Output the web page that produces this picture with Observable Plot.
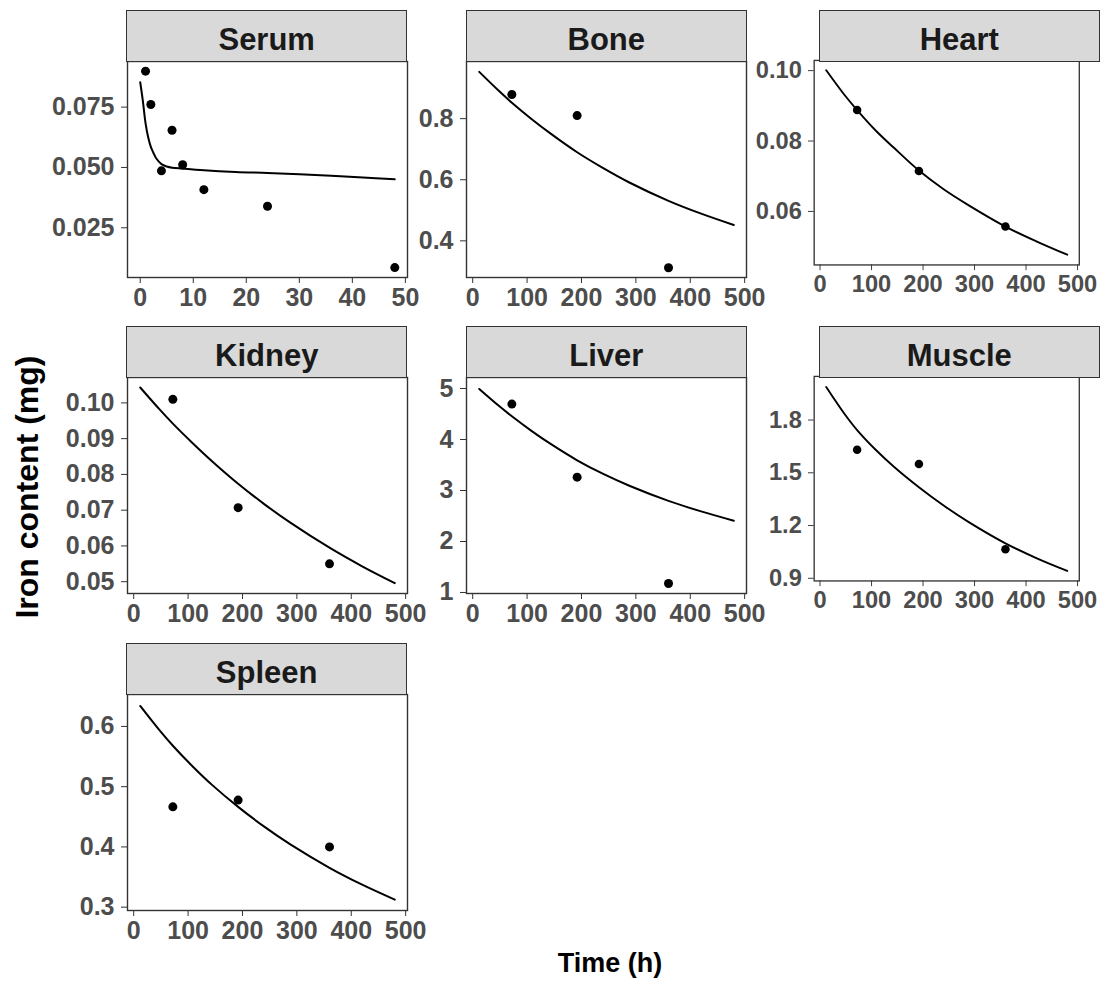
<!DOCTYPE html>
<html>
<head>
<meta charset="utf-8">
<script src="https://cdn.jsdelivr.net/npm/d3@7"></script>
<script src="https://cdn.jsdelivr.net/npm/@observablehq/plot@0.6"></script>
<style>
  html, body { margin: 0; padding: 0; background: #fff; overflow: hidden; }
  #fig { position: relative; width: 1117px; height: 985px; overflow: hidden; background: #fff;
         font-family: "Liberation Sans", Arial, sans-serif; }
  .cell { position: absolute; }
  .strip { position: absolute; box-sizing: border-box; background: #d9d9d9; border: 1.3px solid #333;
           text-align: center; font-weight: bold; font-size: 31px; color: #1a1a1a; line-height: 51px; }
  .strip span { position: relative; top: 3px; }
  .title { position: absolute; font-weight: bold; color: #000; white-space: nowrap; text-align: center; }
  g[aria-label="x-axis tick label"], g[aria-label="y-axis tick label"] { fill: #4d4d4d; }
  g[aria-label="x-axis tick"], g[aria-label="y-axis tick"] { stroke: #333; }
</style>
</head>
<body>
<div id="fig"></div>
<script>
// ---------------- data ----------------
const organs = ["Serum", "Bone", "Heart", "Kidney", "Liver", "Muscle", "Spleen"];

// observed time points (h)
const serumObsTime = [1, 2, 4, 6, 8, 12, 24, 48];
const organObsTime = [72, 192, 360];

// observed iron content (mg)
const serumObs  = [0.0899, 0.0761, 0.0486, 0.0654, 0.0511, 0.0408, 0.0339, 0.0085];
const boneObs   = [0.879, 0.810, 0.312];
const heartObs  = [0.0888, 0.0715, 0.0557];
const kidneyObs = [0.1010, 0.0707, 0.0550];
const liverObs  = [4.694, 3.261, 1.176];
const muscleObs = [1.631, 1.550, 1.065];
const spleenObs = [0.4666, 0.4777, 0.400];

// model curves
const serumFitTime = [0, 0.5, 1, 1.5, 2, 2.5, 3, 4, 5, 6, 8, 12, 18, 24, 30, 36, 42, 48];
const serumFit = [0.0853, 0.0775, 0.0684, 0.0625, 0.0585, 0.0560, 0.0538, 0.0514, 0.0504, 0.0499,
                  0.0495, 0.0488, 0.0481, 0.0477, 0.0472, 0.0466, 0.0458, 0.0451];
const organFitTime = [12, 48, 72, 108, 144, 192, 240, 288, 360, 420, 480];
const boneFit   = [0.953, 0.891, 0.852, 0.799, 0.750, 0.690, 0.638, 0.591, 0.531, 0.489, 0.452];
const heartFit  = [0.1001, 0.0930, 0.0888, 0.0830, 0.0780, 0.0716, 0.0663, 0.0618, 0.0557, 0.0515, 0.0477];
const kidneyFit = [0.1043, 0.0981, 0.0942, 0.0888, 0.0837, 0.0774, 0.0717, 0.0665, 0.0595, 0.0543, 0.0496];
const liverFit  = [4.99, 4.66, 4.455, 4.17, 3.908, 3.593, 3.325, 3.094, 2.797, 2.590, 2.408];
const muscleFit = [1.988, 1.833, 1.743, 1.631, 1.533, 1.418, 1.314, 1.221, 1.099, 1.015, 0.942];
const spleenFit = [0.634, 0.593, 0.568, 0.534, 0.503, 0.4665, 0.4337, 0.4042, 0.3654, 0.3374, 0.3126];

// tick labels
const serumTimeTicks = [0, 10, 20, 30, 40, 50];
const organTimeTicks = [0, 100, 200, 300, 400, 500];
const serumTicks  = [0.025, 0.050, 0.075];
const boneTicks   = [0.4, 0.6, 0.8];
const heartTicks  = [0.06, 0.08, 0.10];
const kidneyTicks = [0.05, 0.06, 0.07, 0.08, 0.09, 0.10];
const liverTicks  = [1, 2, 3, 4, 5];
const muscleTicks = [0.9, 1.2, 1.5, 1.8];
const spleenTicks = [0.3, 0.4, 0.5, 0.6];

// scale domains (free scales per facet)
const serumTimeDomain = [-2.4, 50.4];
const organTimeDomain = [-11.4, 503.4];
const serumDomain  = [0.0044, 0.0939];
const boneDomain   = [0.280, 0.987];
const heartDomain  = [0.0448, 0.1029];
const kidneyDomain = [0.0467, 0.1071];
const liverDomain  = [0.98, 5.216];
const muscleDomain = [0.885, 2.048];
const spleenDomain = [0.2945, 0.653];

const xLabel = "Time (h)";
const yLabel = "Iron content (mg)";

// ---------------- layout ----------------
const PW = 280, PH = 216, STRIP = 51.5;
const ML = 100, MR = 40, MT = 20, MB = 50;
const colLeft = [126.7, 466.3, 819.3];
const rowTop = [61, 377, 694];

const specs = [
  {obsT: serumObsTime, obsV: serumObs, fitT: serumFitTime, fitV: serumFit, xTicks: serumTimeTicks, xDomain: serumTimeDomain, yTicks: serumTicks, yDomain: serumDomain, fmt: d3.format(".3f")},
  {obsT: organObsTime, obsV: boneObs, fitT: organFitTime, fitV: boneFit, xTicks: organTimeTicks, xDomain: organTimeDomain, yTicks: boneTicks, yDomain: boneDomain, fmt: d3.format(".1f")},
  {obsT: organObsTime, obsV: heartObs, fitT: organFitTime, fitV: heartFit, xTicks: organTimeTicks, xDomain: organTimeDomain, yTicks: heartTicks, yDomain: heartDomain, fmt: d3.format(".2f")},
  {obsT: organObsTime, obsV: kidneyObs, fitT: organFitTime, fitV: kidneyFit, xTicks: organTimeTicks, xDomain: organTimeDomain, yTicks: kidneyTicks, yDomain: kidneyDomain, fmt: d3.format(".2f")},
  {obsT: organObsTime, obsV: liverObs, fitT: organFitTime, fitV: liverFit, xTicks: organTimeTicks, xDomain: organTimeDomain, yTicks: liverTicks, yDomain: liverDomain, fmt: d3.format("d")},
  {obsT: organObsTime, obsV: muscleObs, fitT: organFitTime, fitV: muscleFit, xTicks: organTimeTicks, xDomain: organTimeDomain, yTicks: muscleTicks, yDomain: muscleDomain, fmt: d3.format(".1f")},
  {obsT: organObsTime, obsV: spleenObs, fitT: organFitTime, fitV: spleenFit, xTicks: organTimeTicks, xDomain: organTimeDomain, yTicks: spleenTicks, yDomain: spleenDomain, fmt: d3.format(".1f")}
];

const fig = document.getElementById("fig");

organs.forEach((name, i) => {
  const s = specs[i];
  const col = i % 3, row = Math.floor(i / 3);
  const left = colLeft[col], top = rowTop[row];
  const fit = s.fitT.map((t, j) => ({t, v: s.fitV[j]}));
  const obs = s.obsT.map((t, j) => ({t, v: s.obsV[j]}));

  const svg = Plot.plot({
    width: ML + PW + MR,
    height: MT + PH + MB,
    marginLeft: ML, marginRight: MR, marginTop: MT, marginBottom: MB,
    x: {domain: s.xDomain},
    y: {domain: s.yDomain},
    style: {background: "transparent", overflow: "visible", fontFamily: "'Liberation Sans', Arial, sans-serif",
            fontSize: "25px", fontWeight: "bold"},
    marks: [
      Plot.axisX({ticks: s.xTicks, tickSize: 6, tickPadding: 5, tickFormat: d => String(d), label: null}),
      Plot.axisY({ticks: s.yTicks, tickSize: 6, tickPadding: 7, tickFormat: s.fmt, label: null}),
      Plot.line(fit, {x: "t", y: "v", stroke: "#000", strokeWidth: 2, curve: "catmull-rom"}),
      Plot.dot(obs, {x: "t", y: "v", r: 4.5, fill: "#000", stroke: "none"}),
      Plot.frame({stroke: "#333", strokeWidth: 1.4})
    ]
  });
  const cell = document.createElement("div");
  cell.className = "cell";
  cell.style.left = (left - ML) + "px";
  cell.style.top = (top - MT) + "px";
  cell.appendChild(svg);
  fig.appendChild(cell);

  const strip = document.createElement("div");
  strip.className = "strip";
  strip.style.left = (left - 0.65) + "px";
  strip.style.top = (top - STRIP) + "px";
  strip.style.width = (PW + 1.3) + "px";
  strip.style.height = (STRIP + 0.65) + "px";
  const sp = document.createElement("span");
  sp.textContent = name;
  strip.appendChild(sp);
  fig.appendChild(strip);
});

// axis titles
const xt = document.createElement("div");
xt.className = "title";
xt.textContent = xLabel;
xt.style.fontSize = "27px";
xt.style.lineHeight = "27px";
xt.style.left = (610 - 200) + "px";
xt.style.width = "400px";
xt.style.top = "950px";
fig.appendChild(xt);

const yt = document.createElement("div");
yt.className = "title";
yt.textContent = yLabel;
yt.style.fontSize = "32px";
yt.style.lineHeight = "32px";
yt.style.width = "400px";
yt.style.height = "32px";
yt.style.left = (27 - 200) + "px";
yt.style.top = (487 - 16) + "px";
yt.style.transform = "rotate(-90deg)";
fig.appendChild(yt);
</script>
</body>
</html>
